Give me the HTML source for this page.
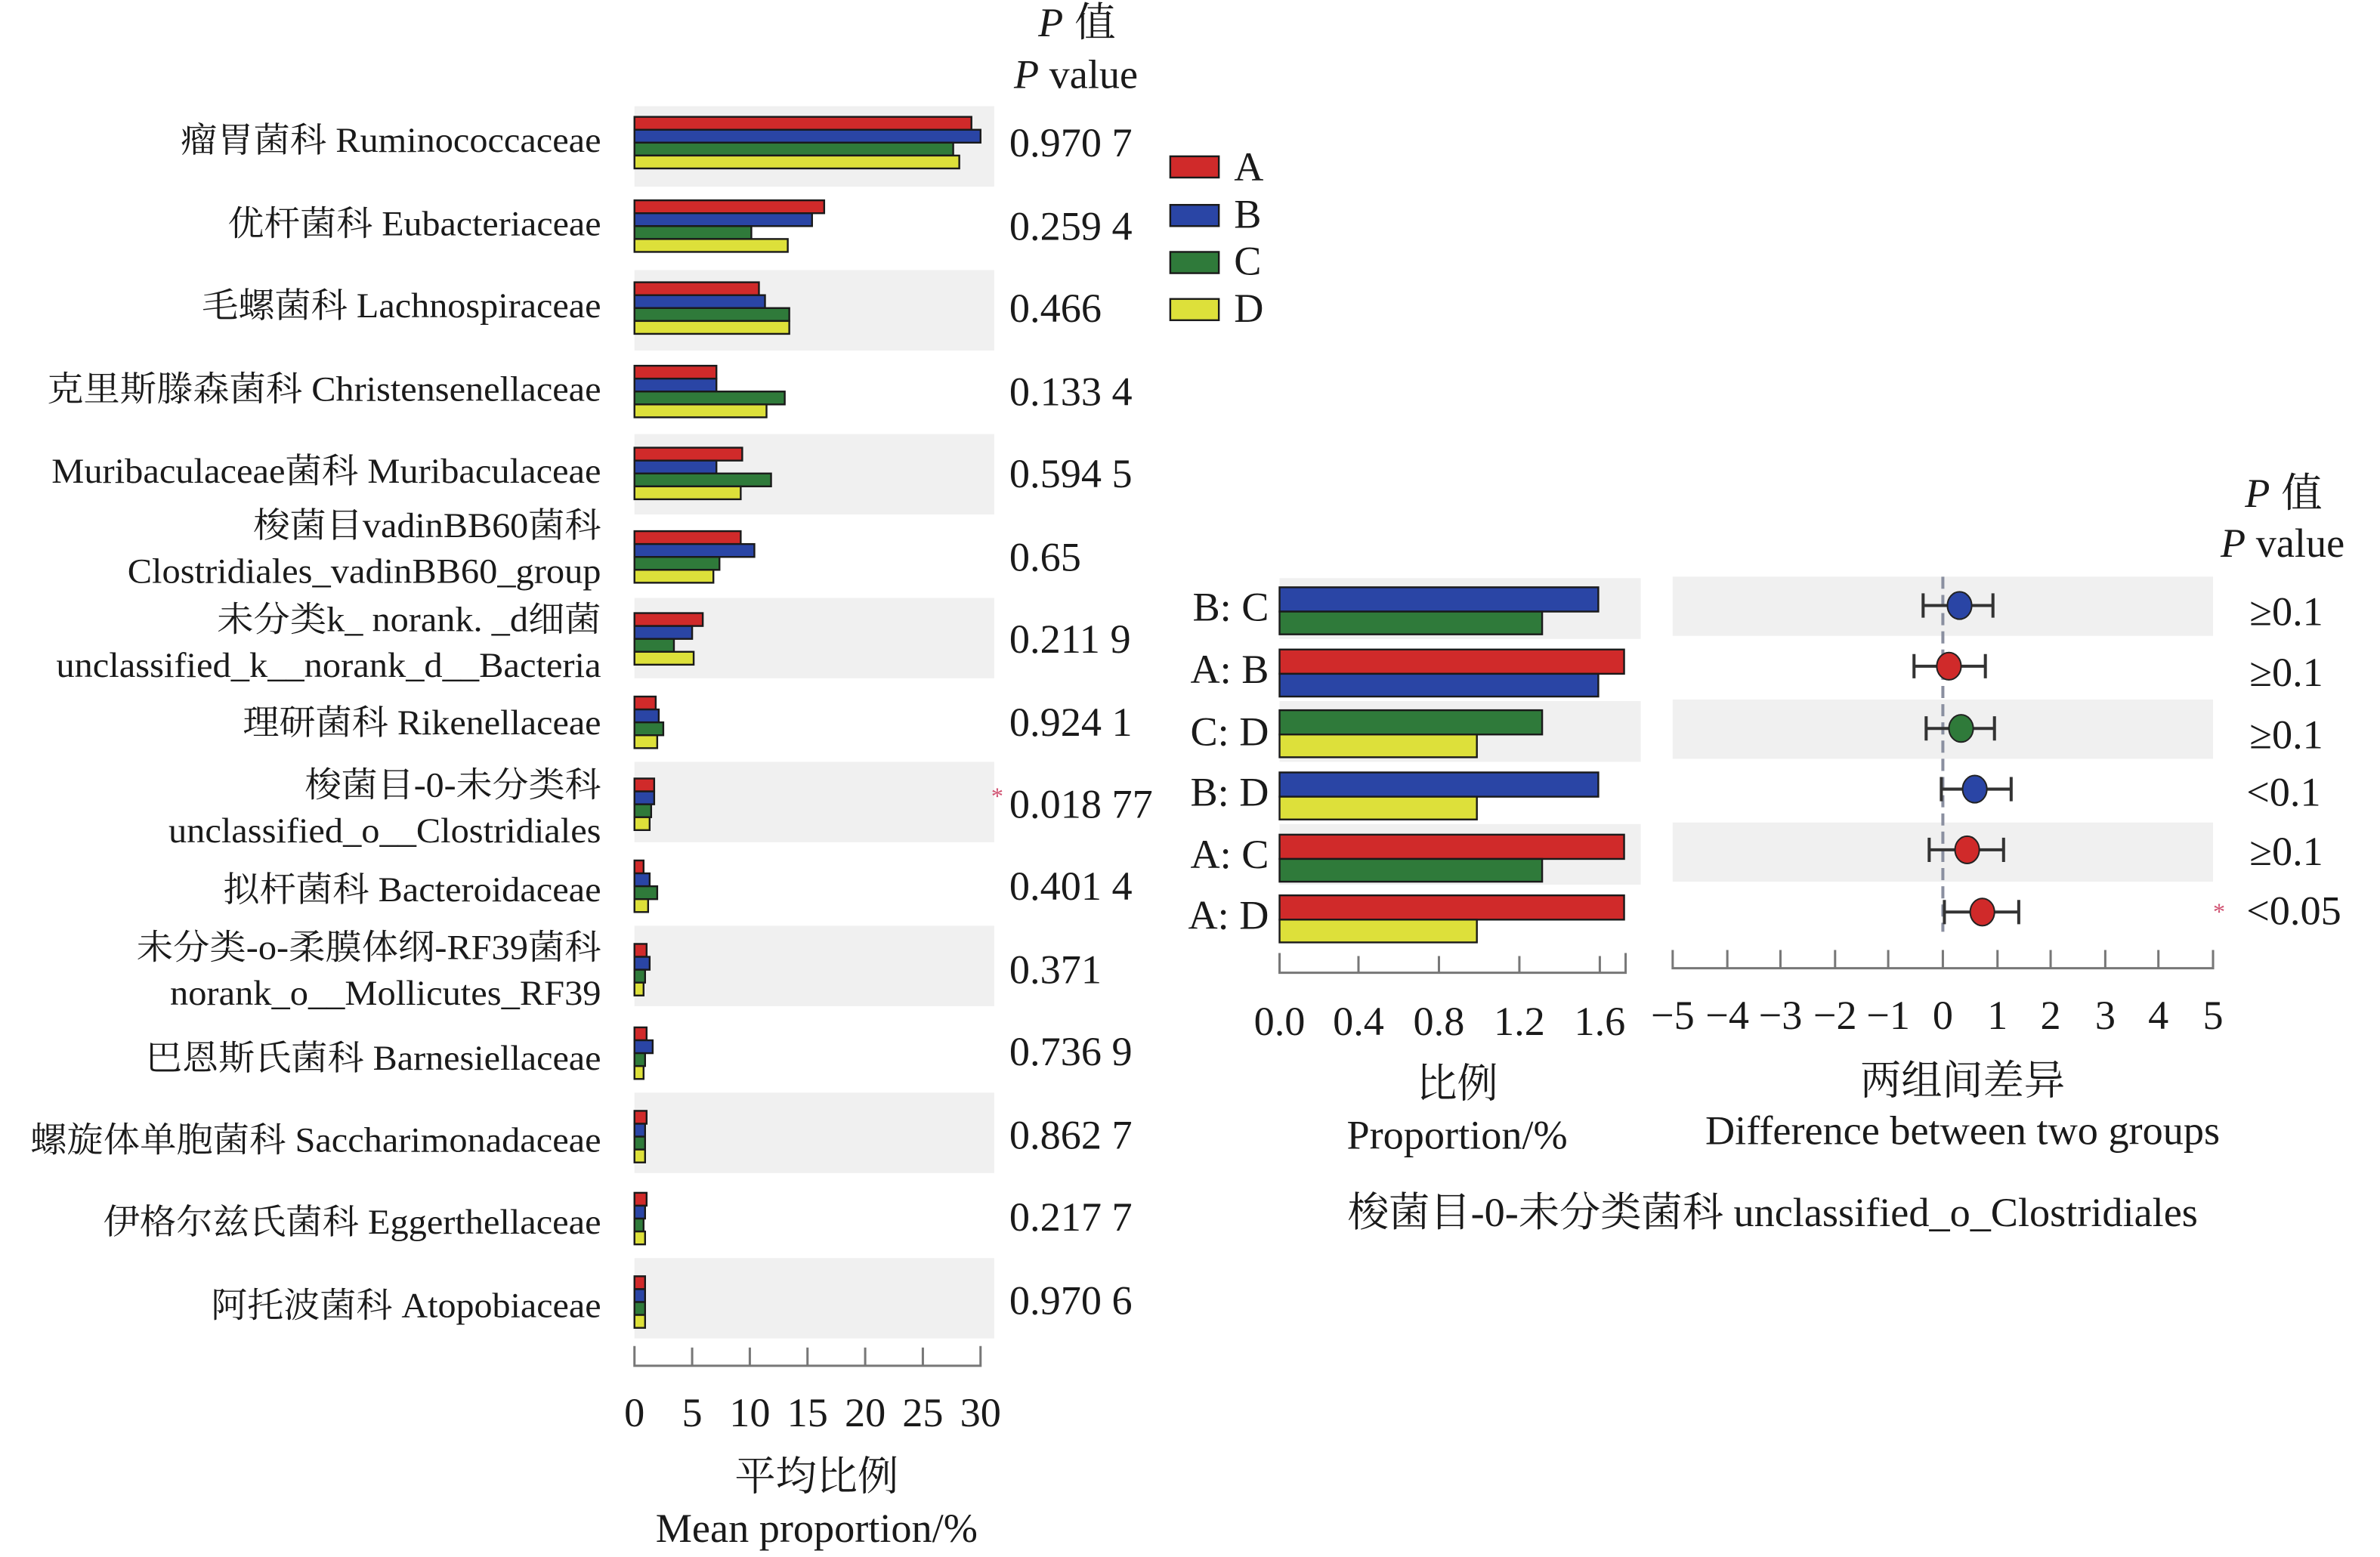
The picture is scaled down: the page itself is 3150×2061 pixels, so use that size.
<!DOCTYPE html>
<html><head><meta charset="utf-8"><style>
html,body{margin:0;padding:0;background:#fff;}
svg{display:block;}
text{font-family:"Liberation Serif","Noto Serif CJK SC",serif;fill:#1a1a1a;}
.b{stroke:#1a1a1a;stroke-width:1.2;}
.r{fill:#d02a2a}.u{fill:#2a45a5}.g{fill:#2f7a3a}.y{fill:#dde03a}
</style></head><body>
<svg width="3150" height="2061" viewBox="0 0 1568 1026" preserveAspectRatio="none">
<g fill="#f0f0f0">
<rect x="418" y="70" width="237" height="53"/>
<rect x="418" y="178" width="237" height="53"/>
<rect x="418" y="286" width="237" height="53"/>
<rect x="418" y="394" width="237" height="53"/>
<rect x="418" y="502" width="237" height="53"/>
<rect x="418" y="610" width="237" height="53"/>
<rect x="418" y="720" width="237" height="53"/>
<rect x="418" y="829" width="237" height="53"/>
</g>
<g class="b">
<rect class="r" x="418" y="77" width="222" height="8.5"/><rect class="u" x="418" y="85.5" width="228" height="8.5"/><rect class="g" x="418" y="94" width="210" height="8.5"/><rect class="y" x="418" y="102.5" width="214" height="8.5"/>
<rect class="r" x="418" y="132" width="125" height="8.5"/><rect class="u" x="418" y="140.5" width="117" height="8.5"/><rect class="g" x="418" y="149" width="77" height="8.5"/><rect class="y" x="418" y="157.5" width="101" height="8.5"/>
<rect class="r" x="418" y="186" width="82" height="8.5"/><rect class="u" x="418" y="194.5" width="86" height="8.5"/><rect class="g" x="418" y="203" width="102" height="8.5"/><rect class="y" x="418" y="211.5" width="102" height="8.5"/>
<rect class="r" x="418" y="241" width="54" height="8.5"/><rect class="u" x="418" y="249.5" width="54" height="8.5"/><rect class="g" x="418" y="258" width="99" height="8.5"/><rect class="y" x="418" y="266.5" width="87" height="8.5"/>
<rect class="r" x="418" y="295" width="71" height="8.5"/><rect class="u" x="418" y="303.5" width="54" height="8.5"/><rect class="g" x="418" y="312" width="90" height="8.5"/><rect class="y" x="418" y="320.5" width="70" height="8.5"/>
<rect class="r" x="418" y="350" width="70" height="8.5"/><rect class="u" x="418" y="358.5" width="79" height="8.5"/><rect class="g" x="418" y="367" width="56" height="8.5"/><rect class="y" x="418" y="375.5" width="52" height="8.5"/>
<rect class="r" x="418" y="404" width="45" height="8.5"/><rect class="u" x="418" y="412.5" width="38" height="8.5"/><rect class="g" x="418" y="421" width="26" height="8.5"/><rect class="y" x="418" y="429.5" width="39" height="8.5"/>
<rect class="r" x="418" y="459" width="14" height="8.5"/><rect class="u" x="418" y="467.5" width="16" height="8.5"/><rect class="g" x="418" y="476" width="19" height="8.5"/><rect class="y" x="418" y="484.5" width="15" height="8.5"/>
<rect class="r" x="418" y="513" width="13" height="8.5"/><rect class="u" x="418" y="521.5" width="13" height="8.5"/><rect class="g" x="418" y="530" width="11" height="8.5"/><rect class="y" x="418" y="538.5" width="10" height="8.5"/>
<rect class="r" x="418" y="567" width="6" height="8.5"/><rect class="u" x="418" y="575.5" width="10" height="8.5"/><rect class="g" x="418" y="584" width="15" height="8.5"/><rect class="y" x="418" y="592.5" width="9" height="8.5"/>
<rect class="r" x="418" y="622" width="8" height="8.5"/><rect class="u" x="418" y="630.5" width="10" height="8.5"/><rect class="g" x="418" y="639" width="7" height="8.5"/><rect class="y" x="418" y="647.5" width="6" height="8.5"/>
<rect class="r" x="418" y="677" width="8" height="8.5"/><rect class="u" x="418" y="685.5" width="12" height="8.5"/><rect class="g" x="418" y="694" width="7" height="8.5"/><rect class="y" x="418" y="702.5" width="6" height="8.5"/>
<rect class="r" x="418" y="732" width="8" height="8.5"/><rect class="u" x="418" y="740.5" width="7" height="8.5"/><rect class="g" x="418" y="749" width="7" height="8.5"/><rect class="y" x="418" y="757.5" width="7" height="8.5"/>
<rect class="r" x="418" y="786" width="8" height="8.5"/><rect class="u" x="418" y="794.5" width="7" height="8.5"/><rect class="g" x="418" y="803" width="6" height="8.5"/><rect class="y" x="418" y="811.5" width="7" height="8.5"/>
<rect class="r" x="418" y="841" width="7" height="8.5"/><rect class="u" x="418" y="849.5" width="7" height="8.5"/><rect class="g" x="418" y="858" width="7" height="8.5"/><rect class="y" x="418" y="866.5" width="7" height="8.5"/>
</g>
<g stroke="#777" stroke-width="1.5" fill="none">
<path d="M418 887V900H646V887 M456 900V888 M494 900V888 M532 900V888 M570 900V888 M608 900V888"/>
</g>
<g font-size="27" text-anchor="middle">
<text x="418" y="940">0</text><text x="456" y="940">5</text><text x="494" y="940">10</text><text x="532" y="940">15</text><text x="570" y="940">20</text><text x="608" y="940">25</text><text x="646" y="940">30</text>
<text x="538" y="982">平均比例</text><text x="538" y="1016">Mean proportion/%</text>
</g>
<g font-size="23" text-anchor="end">
<text x="396" y="100" textLength="277" lengthAdjust="spacingAndGlyphs">瘤胃菌科 Ruminococcaceae</text>
<text x="396" y="155" textLength="246" lengthAdjust="spacingAndGlyphs">优杆菌科 Eubacteriaceae</text>
<text x="396" y="209" textLength="263" lengthAdjust="spacingAndGlyphs">毛螺菌科 Lachnospiraceae</text>
<text x="396" y="264" textLength="365" lengthAdjust="spacingAndGlyphs">克里斯滕森菌科 Christensenellaceae</text>
<text x="396" y="318" textLength="362" lengthAdjust="spacingAndGlyphs">Muribaculaceae菌科 Muribaculaceae</text>
<text x="396" y="354" textLength="229" lengthAdjust="spacingAndGlyphs">梭菌目vadinBB60菌科</text>
<text x="396" y="384" textLength="312" lengthAdjust="spacingAndGlyphs">Clostridiales_vadinBB60_group</text>
<text x="396" y="416" textLength="253" lengthAdjust="spacingAndGlyphs">未分类k_ norank. _d细菌</text>
<text x="396" y="446" textLength="359" lengthAdjust="spacingAndGlyphs">unclassified_k__norank_d__Bacteria</text>
<text x="396" y="484" textLength="236" lengthAdjust="spacingAndGlyphs">理研菌科 Rikenellaceae</text>
<text x="396" y="525" textLength="195" lengthAdjust="spacingAndGlyphs">梭菌目-0-未分类科</text>
<text x="396" y="555" textLength="285" lengthAdjust="spacingAndGlyphs">unclassified_o__Clostridiales</text>
<text x="396" y="594" textLength="249" lengthAdjust="spacingAndGlyphs">拟杆菌科 Bacteroidaceae</text>
<text x="396" y="632" textLength="306" lengthAdjust="spacingAndGlyphs">未分类-o-柔膜体纲-RF39菌科</text>
<text x="396" y="662" textLength="284" lengthAdjust="spacingAndGlyphs">norank_o__Mollicutes_RF39</text>
<text x="396" y="705" textLength="300" lengthAdjust="spacingAndGlyphs">巴恩斯氏菌科 Barnesiellaceae</text>
<text x="396" y="759" textLength="376" lengthAdjust="spacingAndGlyphs">螺旋体单胞菌科 Saccharimonadaceae</text>
<text x="396" y="813" textLength="328" lengthAdjust="spacingAndGlyphs">伊格尔兹氏菌科 Eggerthellaceae</text>
<text x="396" y="868" textLength="257" lengthAdjust="spacingAndGlyphs">阿托波菌科 Atopobiaceae</text>
</g>
<g font-size="27">
<text x="684" y="24" font-style="italic">P</text><text x="708" y="24">值</text>
<text x="668" y="58"><tspan font-style="italic">P</tspan> value</text>
<text x="665" y="103">0.970 7</text>
<text x="665" y="158">0.259 4</text>
<text x="665" y="212">0.466</text>
<text x="665" y="267">0.133 4</text>
<text x="665" y="321">0.594 5</text>
<text x="665" y="376">0.65</text>
<text x="665" y="430">0.211 9</text>
<text x="665" y="485">0.924 1</text>
<text x="665" y="539">0.018 77</text>
<text x="665" y="593">0.401 4</text>
<text x="665" y="648">0.371</text>
<text x="665" y="702">0.736 9</text>
<text x="665" y="757">0.862 7</text>
<text x="665" y="811">0.217 7</text>
<text x="665" y="866">0.970 6</text>
</g>
<text x="653" y="530" font-size="16" style="fill:#d05070">*</text>
<g class="b">
<rect class="r" x="771" y="103" width="32" height="14"/>
<rect class="u" x="771" y="135" width="32" height="14"/>
<rect class="g" x="771" y="166" width="32" height="14"/>
<rect class="y" x="771" y="197" width="32" height="14"/>
</g>
<g font-size="27">
<text x="813" y="119">A</text><text x="813" y="150">B</text><text x="813" y="181">C</text><text x="813" y="212">D</text>
</g>
<g fill="#f0f0f0">
<rect x="843" y="381" width="238" height="40"/>
<rect x="843" y="462" width="238" height="40"/>
<rect x="843" y="543" width="238" height="40"/>
<rect x="1102" y="380" width="356" height="39"/>
<rect x="1102" y="461" width="356" height="39"/>
<rect x="1102" y="542" width="356" height="39"/>
</g>
<g class="b">
<rect class="u" x="843" y="387" width="210" height="16"/><rect class="g" x="843" y="403" width="173" height="15"/>
<rect class="r" x="843" y="428" width="227" height="16"/><rect class="u" x="843" y="444" width="210" height="15"/>
<rect class="g" x="843" y="468" width="173" height="16"/><rect class="y" x="843" y="484" width="130" height="15"/>
<rect class="u" x="843" y="509" width="210" height="16"/><rect class="y" x="843" y="525" width="130" height="15"/>
<rect class="r" x="843" y="550" width="227" height="16"/><rect class="g" x="843" y="566" width="173" height="15"/>
<rect class="r" x="843" y="590" width="227" height="16"/><rect class="y" x="843" y="606" width="130" height="15"/>
</g>
<g font-size="27" text-anchor="end">
<text x="836" y="409">B: C</text><text x="836" y="450">A: B</text><text x="836" y="491">C: D</text>
<text x="836" y="531">B: D</text><text x="836" y="572">A: C</text><text x="836" y="612">A: D</text>
</g>
<g stroke="#777" stroke-width="1.5" fill="none">
<path d="M843 628V641H1071V628 M895 641V630 M948 641V630 M1001 641V630 M1054 641V630"/>
<path d="M1102 626V638H1458V626 M1138 638V626 M1173 638V626 M1209 638V626 M1244 638V626 M1280 638V626 M1316 638V626 M1351 638V626 M1387 638V626 M1422 638V626"/>
</g>
<g font-size="27" text-anchor="middle">
<text x="843" y="682">0.0</text><text x="895" y="682">0.4</text><text x="948" y="682">0.8</text><text x="1001" y="682">1.2</text><text x="1054" y="682">1.6</text>
<text x="1102" y="678">−5</text><text x="1138" y="678">−4</text><text x="1173" y="678">−3</text><text x="1209" y="678">−2</text><text x="1244" y="678">−1</text><text x="1280" y="678">0</text><text x="1316" y="678">1</text><text x="1351" y="678">2</text><text x="1387" y="678">3</text><text x="1422" y="678">4</text><text x="1458" y="678">5</text>
<text x="960" y="723">比例</text><text x="960" y="757">Proportion/%</text>
<text x="1293" y="721">两组间差异</text><text x="1293" y="754">Difference between two groups</text>
<text x="1168" y="808">梭菌目-0-未分类菌科 unclassified_o_Clostridiales</text>
</g>
<line x1="1280" y1="380" x2="1280" y2="614" stroke="#8a8fa0" stroke-width="2" stroke-dasharray="8,4"/>
<g stroke="#333" stroke-width="2" fill="none">
<path d="M1267 399H1313 M1267 391V407 M1313 391V407"/>
<path d="M1261 439H1308 M1261 431V447 M1308 431V447"/>
<path d="M1269 480H1314 M1269 472V488 M1314 472V488"/>
<path d="M1279 520H1325 M1279 512V528 M1325 512V528"/>
<path d="M1271 560H1320 M1271 552V568 M1320 552V568"/>
<path d="M1281 601H1330 M1281 593V609 M1330 593V609"/>
</g>
<g stroke="#222" stroke-width="1">
<ellipse class="u" cx="1291" cy="399" rx="8" ry="9"/>
<ellipse class="r" cx="1284" cy="439" rx="8" ry="9"/>
<ellipse class="g" cx="1292" cy="480" rx="8" ry="9"/>
<ellipse class="u" cx="1301" cy="520" rx="8" ry="9"/>
<ellipse class="r" cx="1296" cy="560" rx="8" ry="9"/>
<ellipse class="r" cx="1306" cy="601" rx="8" ry="9"/>
</g>
<g font-size="27">
<text x="1479" y="334" font-style="italic">P</text><text x="1503" y="334">值</text>
<text x="1463" y="367"><tspan font-style="italic">P</tspan> value</text>
<text x="1482" y="412">≥0.1</text><text x="1482" y="452">≥0.1</text><text x="1482" y="493">≥0.1</text>
<text x="1480" y="531">&lt;0.1</text><text x="1482" y="570">≥0.1</text><text x="1480" y="609">&lt;0.05</text>
</g>
<text x="1458" y="606" font-size="16" style="fill:#d05070">*</text>
</svg>
</body></html>
